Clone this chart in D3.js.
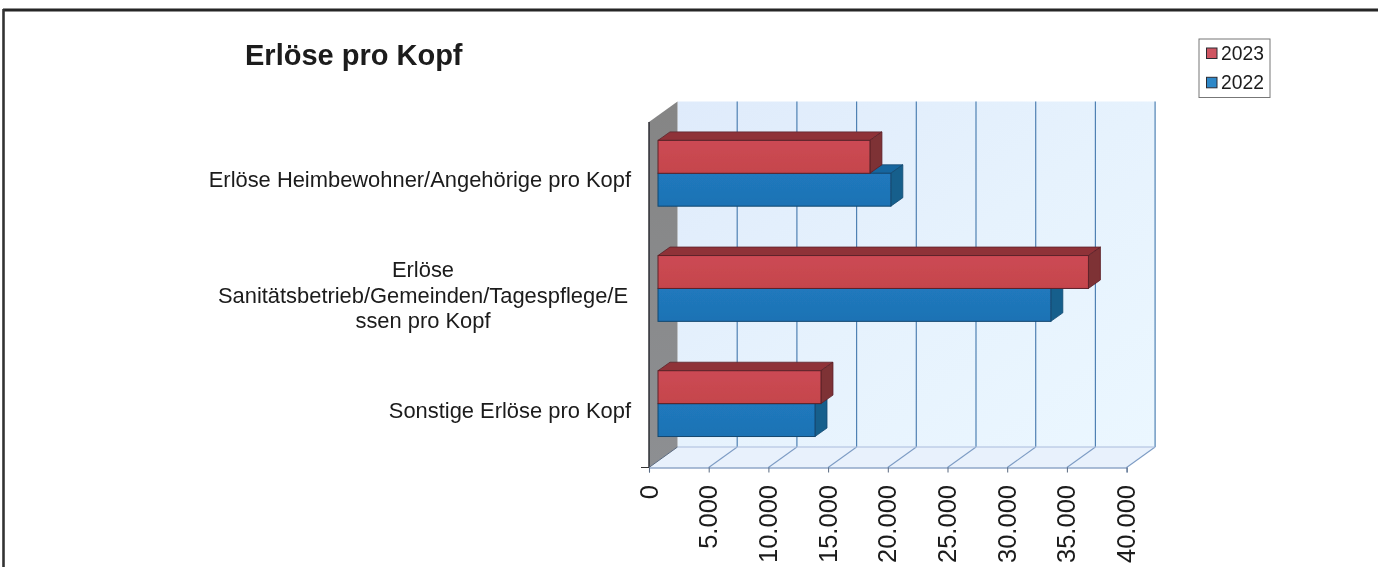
<!DOCTYPE html>
<html><head><meta charset="utf-8">
<script src="https://cdn.jsdelivr.net/npm/d3@7/dist/d3.min.js"></script>
<style>html,body{margin:0;padding:0;background:#fff;overflow:hidden}svg{display:block}text{font-family:"Liberation Sans",Arial,sans-serif;fill:#1a1a1a}</style>
</head><body><svg id="c" width="1378" height="567"></svg>
<script>
const titleText = "Erlöse pro Kopf";
const categories = ["Erlöse Heimbewohner/Angehörige pro Kopf","Erlöse Sanitätsbetrieb/Gemeinden/Tagespflege/E ssen pro Kopf","Sonstige Erlöse pro Kopf"];
const categoryLines = [["Erlöse Heimbewohner/Angehörige pro Kopf"],["Erlöse","Sanitätsbetrieb/Gemeinden/Tagespflege/E","ssen pro Kopf"],["Sonstige Erlöse pro Kopf"]];
const seriesNames = ["2022","2023"];
const values2022 = [19500,32900,13150];
const values2023 = [17750,36050,13650];
const tickValues = [0,5000,10000,15000,20000,25000,30000,35000,40000];

const svg = d3.select("#c");
const defs = svg.append("defs");
const soft = defs.append("filter").attr("id","soft").attr("filterUnits","userSpaceOnUse").attr("x",0).attr("y",0).attr("width",1378).attr("height",567);
soft.append("feGaussianBlur").attr("stdDeviation",0.45);
function grad(id,x2,y2,stops){const g=defs.append("linearGradient").attr("id",id).attr("x1",0).attr("y1",0).attr("x2",x2).attr("y2",y2);
  stops.forEach((c,i)=>g.append("stop").attr("offset",i/(stops.length-1)).attr("stop-color",c));}
grad("wall",1,1,["#dfebfb","#e6f2fd","#ebf7ff"]);
grad("side",0,1,["#858585","#8d8f92"]);
grad("red",0,1,["#cc4a54","#c5454c"]);
grad("blue",0,1,["#2079bd","#1e72b4"]);

const root = svg.append("g").attr("filter","url(#soft)");
root.append("path").attr("d","M3,10H1378").attr("stroke","#262626").attr("stroke-width",3).attr("fill","none");
root.append("path").attr("d","M3.5,9V567").attr("stroke","#333").attr("stroke-width",2.6).attr("fill","none");

// 3D frame
const x0 = 649, x1 = 1126.6, yTop = 122, yBase = 467.5;
const depthX = 28.5, depthY = -20.5;
const x = d3.scaleLinear().domain([0,40000]).range([x0,x1]);
const y = d3.scaleBand().domain(categories).range([yTop-6.3,yBase-6.3]).paddingInner(0).paddingOuter(0);
const inner = d3.scaleBand().domain(["2023","2022"]).range([0,y.step()]).paddingInner(0).paddingOuter(0.75);
const poly = pts => "M"+pts.map(p=>p.join(",")).join("L")+"Z";

// back wall, floor, side wall
root.append("path").attr("d",poly([[x0+depthX,yTop+depthY],[x1+depthX,yTop+depthY],[x1+depthX,yBase+depthY],[x0+depthX,yBase+depthY]])).attr("fill","url(#wall)");
root.append("path").attr("d",poly([[x0,yBase],[x1,yBase],[x1+depthX,yBase+depthY],[x0+depthX,yBase+depthY]])).attr("fill","#e8f1fc");
root.append("path").attr("d",poly([[x0,yTop],[x0+depthX,yTop+depthY],[x0+depthX,yBase+depthY],[x0,yBase]])).attr("fill","url(#side)");
root.append("path").attr("d",`M${x0},${yTop}V${yBase}`).attr("stroke","#22252b").attr("stroke-width",1.4).attr("fill","none");

// gridlines
const grid = root.append("g").attr("fill","none");
grid.selectAll(".back").data(tickValues.slice(1)).join("line").attr("class","back")
  .attr("x1",d=>x(d)+depthX).attr("x2",d=>x(d)+depthX).attr("y1",yTop+depthY).attr("y2",yBase+depthY)
  .attr("stroke","#4f81b3").attr("stroke-width",1.2);
grid.selectAll(".floor").data(tickValues.slice(1)).join("line").attr("class","floor")
  .attr("x1",d=>x(d)).attr("x2",d=>x(d)+depthX).attr("y1",yBase).attr("y2",yBase+depthY)
  .attr("stroke","#7d9cc4").attr("stroke-width",1.1);
grid.append("line").attr("x1",x0+depthX).attr("x2",x1+depthX).attr("y1",yBase+depthY).attr("y2",yBase+depthY).attr("stroke","#a9bcdc").attr("stroke-width",1.2);
grid.append("line").attr("x1",x0).attr("x2",x0+depthX).attr("y1",yBase).attr("y2",yBase+depthY).attr("stroke","#5a6a80").attr("stroke-width",1);

// bars
const barOffsetX = 9, barDX = 12, barDY = -8.5;
const palette = {"2023":{face:"url(#red)",top:"#8f3239",side:"#7e3035",edge:"#5c2228"},
                 "2022":{face:"url(#blue)",top:"#17669f",side:"#165f8c",edge:"#12476f"}};
const rows = [];
categories.forEach((c,i)=>{ rows.push({c,s:"2022",v:values2022[i]}); rows.push({c,s:"2023",v:values2023[i]}); });
const bars = root.append("g").selectAll("g").data(rows).join("g");
const L = () => x(0)+barOffsetX;
const R = d => x(d.v)+barOffsetX;
const T = d => y(d.c)+inner(d.s);
const B = d => T(d)+inner.bandwidth();
bars.append("path").attr("d",d=>poly([[L(),T(d)],[L()+barDX,T(d)+barDY],[R(d)+barDX,T(d)+barDY],[R(d),T(d)]]))
  .attr("fill",d=>palette[d.s].top).attr("stroke",d=>palette[d.s].edge).attr("stroke-width",.8);
bars.append("path").attr("d",d=>poly([[R(d),T(d)],[R(d)+barDX,T(d)+barDY],[R(d)+barDX,B(d)+barDY],[R(d),B(d)]]))
  .attr("fill",d=>palette[d.s].side).attr("stroke",d=>palette[d.s].edge).attr("stroke-width",.8);
bars.append("rect").attr("x",L()).attr("y",T).attr("width",d=>R(d)-L()).attr("height",inner.bandwidth())
  .attr("fill",d=>palette[d.s].face).attr("stroke",d=>palette[d.s].edge).attr("stroke-width",1);

// value axis
const fmt = d3.formatLocale({decimal:",",thousands:".",grouping:[3],currency:["","€"]}).format(",");
const ax = root.append("g").attr("transform",`translate(0,${yBase})`)
  .call(d3.axisBottom(x).tickValues(tickValues).tickFormat(fmt).tickSize(5).tickPadding(0));
ax.select(".domain").attr("stroke","#5a7fae").attr("stroke-width",1.1);
ax.selectAll(".tick line").attr("stroke","#5a6a80");
ax.selectAll(".tick text").attr("x",0).attr("y",0).attr("dy",0)
  .attr("text-anchor","end").attr("dominant-baseline","central")
  .attr("transform","translate(-1,17.5) rotate(-90)").attr("font-size",25.5).style("fill","#1a1a1a");
root.append("line").attr("x1",x0-8).attr("x2",x0).attr("y1",yBase).attr("y2",yBase).attr("stroke","#333");

// category labels
const lab = root.append("g");
const labelRight = 631, blockWidth = 416;
categoryLines.forEach((lines,i)=>{
  const cy = y(categories[i])+y.bandwidth()/2;
  const multi = lines.length>1;
  const lx = multi ? labelRight-blockWidth/2 : labelRight;
  const t = lab.append("text").attr("font-size",21.9)
    .attr("text-anchor",multi?"middle":"end")
    .attr("x",lx).attr("y",cy+(multi?-11:14));
  lines.forEach((l,j)=>t.append("tspan").attr("x",lx).attr("dy",j?25.5:0).text(l));
});

// title
root.append("text").attr("x",245).attr("y",64.5).attr("font-size",29).attr("font-weight","bold").text(titleText);

// legend
const lg = root.append("g");
lg.append("rect").attr("x",1199).attr("y",39).attr("width",71).attr("height",58.5).attr("fill","#fff").attr("stroke","#777").attr("stroke-width",1);
["2023","2022"].forEach((s,i)=>{
  const yy = 48+i*29.3;
  lg.append("rect").attr("x",1206.5).attr("y",yy).attr("width",10.5).attr("height",10.5)
    .attr("fill",s==="2023"?"#cf5562":"#2f88c8").attr("stroke","#2b2b33").attr("stroke-width",1);
  lg.append("text").attr("x",1221).attr("y",yy+12).attr("font-size",19.3).text(s);
});
</script></body></html>
